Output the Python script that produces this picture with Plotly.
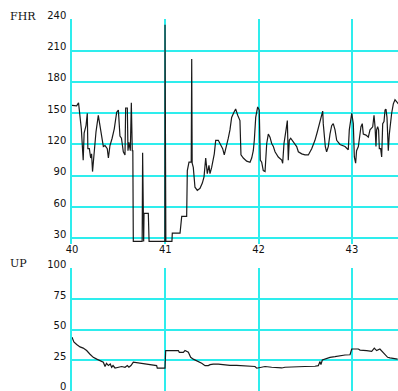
import plotly.graph_objects as go

# Fetal heart rate (bpm) against time
fhr_time = [40.00, 40.05, 40.07, 40.086, 40.10, 40.12, 40.13, 40.15, 40.164, 40.17,
            40.186, 40.20, 40.21, 40.22, 40.236, 40.257, 40.282, 40.30, 40.32, 40.336,
            40.354, 40.378, 40.39, 40.407, 40.43, 40.453, 40.479, 40.497, 40.514, 40.53,
            40.55, 40.568, 40.575, 40.593, 40.60, 40.61, 40.625, 40.636, 40.646, 40.652,
            40.657, 40.752, 40.757, 40.762, 40.768, 40.772, 40.818, 40.826, 40.995, 40.997,
            41.000, 41.003, 41.006, 41.071, 41.075, 41.158, 41.176, 41.229, 41.236, 41.254,
            41.278, 41.283, 41.288, 41.300, 41.318, 41.343, 41.372, 41.397, 41.415, 41.433,
            41.45, 41.468, 41.479, 41.497, 41.514, 41.525, 41.54, 41.568, 41.597, 41.615,
            41.632, 41.65, 41.675, 41.693, 41.711, 41.736, 41.754, 41.776, 41.80, 41.811,
            41.836, 41.872, 41.908, 41.926, 41.943, 41.954, 41.969, 41.99, 42.007, 42.018,
            42.033, 42.05, 42.069, 42.087, 42.104, 42.122, 42.14, 42.158, 42.176, 42.211,
            42.248, 42.258, 42.272, 42.294, 42.308, 42.318, 42.329, 42.344, 42.372, 42.408,
            42.426, 42.462, 42.497, 42.533, 42.569, 42.604, 42.629, 42.658, 42.676, 42.687,
            42.693, 42.704, 42.715, 42.729, 42.747, 42.765, 42.783, 42.80, 42.819, 42.837,
            42.872, 42.926, 42.961, 42.972, 42.987, 42.998, 43.015, 43.026, 43.04, 43.05,
            43.069, 43.087, 43.097, 43.111, 43.122, 43.151, 43.176, 43.194, 43.223, 43.237,
            43.248, 43.258, 43.265, 43.276, 43.286, 43.294, 43.308, 43.319, 43.33, 43.344,
            43.355, 43.365, 43.376, 43.383, 43.39, 43.401, 43.416, 43.426, 43.444, 43.462,
            43.48, 43.497]
fhr_bpm = [157.6, 157, 160, 148, 135, 105, 131, 138, 150, 116,
           116, 107, 111, 94, 110, 132, 148, 138, 126, 118,
           119, 116, 107, 119, 126, 135, 151, 153, 128, 126,
           113, 110, 155, 155, 114, 122, 114, 160, 114, 114,
           27, 27, 112, 27, 27, 54, 54, 27, 27, 235,
           27, 134, 27, 27, 35, 35, 51, 51, 95, 103,
           103, 202, 102, 98, 79, 76, 78, 83, 89, 107,
           92, 100, 92, 98, 105, 111, 124, 124, 119, 116,
           110, 116, 126, 134, 146, 151, 154, 148, 143, 110,
           107, 104, 103, 107, 114, 124, 146, 156, 153, 105,
           103, 95, 94, 121, 130, 127, 121, 118, 113, 108,
           105, 102, 121, 134, 143, 105, 124, 126, 122, 118,
           113, 111, 110, 110, 116, 124, 132, 142, 151, 152,
           140, 127, 118, 113, 118, 130, 138, 140, 134, 124,
           120, 118, 115, 134, 146, 150, 140, 108, 102, 114,
           118, 130, 137, 140, 130, 129, 127, 134, 137, 148,
           137, 118, 134, 137, 134, 116, 116, 108, 140, 142,
           153, 154, 146, 130, 114, 130, 143, 150, 159, 163,
           161, 159]

# Uterine pressure against time
up_time = [40.00, 40.02, 40.05, 40.086, 40.12, 40.157, 40.193, 40.228, 40.265, 40.30,
           40.336, 40.354, 40.37, 40.39, 40.41, 40.425, 40.44, 40.461, 40.497, 40.533,
           40.568, 40.593, 40.61, 40.632, 40.657, 40.729, 40.80, 40.907, 40.914, 40.997,
           41.004, 41.14, 41.15, 41.193, 41.211, 41.247, 41.272, 41.30, 41.336, 41.39,
           41.426, 41.461, 41.48, 41.514, 41.568, 41.622, 41.693, 41.765, 41.819, 41.89,
           41.961, 41.98, 42.015, 42.069, 42.14, 42.248, 42.283, 42.39, 42.497, 42.604,
           42.64, 42.658, 42.668, 42.683, 42.711, 42.765, 42.819, 42.872, 42.926, 42.98,
           42.998, 43.069, 43.087, 43.158, 43.212, 43.24, 43.265, 43.30, 43.317, 43.355,
           43.383, 43.408, 43.444, 43.49]
up_value = [44, 40, 38, 36, 35, 33, 30, 27.5, 26, 25,
            23.5, 20, 22.6, 20.8, 22, 19.4, 20.8, 18.8, 19.4, 20,
            19.4, 20.8, 19.4, 20.8, 23.5, 23, 22, 20.7, 18.6, 18.6,
            33, 33, 31.6, 31.6, 33, 31.6, 27.5, 26, 24.8, 22.6,
            20.7, 20.7, 21.5, 22, 22, 21.5, 21, 21, 20.7, 20.7,
            20, 18.6, 19.4, 20, 19.4, 18.8, 19.4, 19.4, 20, 20.2,
            20.7, 24, 21.5, 25.3, 26, 27.5, 28, 28.8, 29.4, 29.6,
            34.3, 34.3, 33.4, 33, 32.4, 35, 33, 34.3, 33, 30.2,
            27.5, 27, 26.7, 26]

x_ticks = [40, 41, 42, 43]
fhr_ticks = [30, 60, 90, 120, 150, 180, 210, 240]
up_ticks = [0, 25, 50, 75, 100]

GRID = "#2EEDED"
NUM_FONT = dict(family="DejaVu Sans", size=10, color="#111")
LBL_FONT = dict(family="DejaVu Serif", size=11, color="#111")

fig = go.Figure()
fig.add_trace(go.Scatter(x=fhr_time, y=fhr_bpm, mode="lines",
                         line=dict(color="#1a1a1a", width=1.2),
                         xaxis="x", yaxis="y", hoverinfo="skip"))
fig.add_trace(go.Scatter(x=up_time, y=up_value, mode="lines",
                         line=dict(color="#1a1a1a", width=1.2),
                         xaxis="x2", yaxis="y2", hoverinfo="skip"))

xcommon = dict(range=[40, 43.494], tickvals=x_ticks, showgrid=True,
               gridcolor=GRID, gridwidth=1.5, zeroline=False, showline=False,
               ticks="", fixedrange=True)
ycommon = dict(showgrid=True, gridcolor=GRID, gridwidth=1.5, zeroline=False,
               showline=True, linecolor=GRID, linewidth=1.5, ticks="",
               tickfont=NUM_FONT, ticklabelshift=-4, ticklabelstandoff=2,
               ticklabeloverflow="allow", fixedrange=True)

fig.update_layout(
    width=398, height=391,
    margin=dict(l=72, r=0, t=19, b=0),
    paper_bgcolor="white", plot_bgcolor="white",
    showlegend=False,
    xaxis=dict(**xcommon, anchor="y", tickfont=NUM_FONT, ticklabelstandoff=-2),
    xaxis2=dict(**xcommon, anchor="y2", showticklabels=False, matches="x"),
    yaxis=dict(**ycommon, domain=[0.3965, 1], range=[25, 240.4], tickvals=fhr_ticks),
    yaxis2=dict(**ycommon, domain=[0, 0.3306], range=[0, 100.4], tickvals=up_ticks),
    annotations=[
        dict(text="FHR", xref="paper", yref="paper", x=-0.196, y=1.008,
             xanchor="left", yanchor="middle", showarrow=False, font=LBL_FONT),
        dict(text="UP", xref="paper", yref="paper", x=-0.196, y=0.3427,
             xanchor="left", yanchor="middle", showarrow=False, font=LBL_FONT),
    ],
)

fig.write_html("out.html")
